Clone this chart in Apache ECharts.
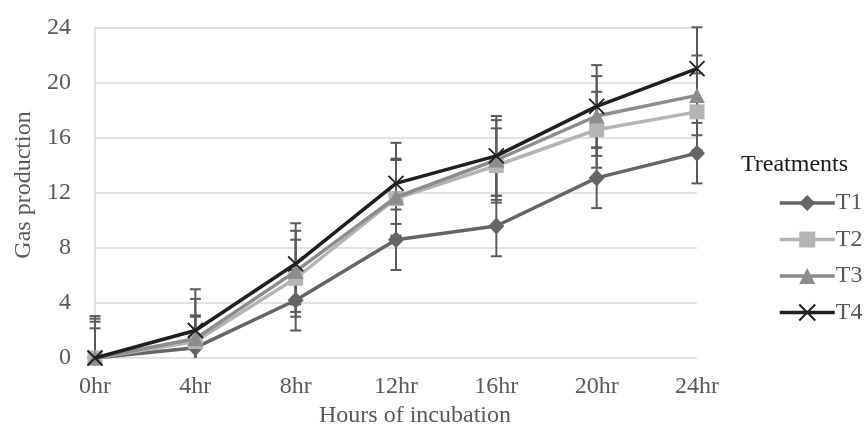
<!DOCTYPE html>
<html>
<head>
<meta charset="utf-8">
<script src="https://cdn.jsdelivr.net/npm/echarts@6/dist/echarts.min.js"></script>
<style>html,body{margin:0;padding:0;background:#fff}#c{width:868px;height:430px}</style>
</head>
<body>
<div id="c"></div>
<script>
var categories = ['0hr','4hr','8hr','12hr','16hr','20hr','24hr'];
var seriesNames = ['T1','T2','T3','T4'];
var T1 = [0, 0.75, 4.2, 8.6, 9.6, 13.1, 14.9];
var T2 = [0, 1.2, 5.8, 11.6, 14.0, 16.6, 17.9];
var T3 = [0, 1.4, 6.3, 11.7, 14.4, 17.6, 19.1];
var T4 = [0, 2.0, 6.85, 12.7, 14.7, 18.3, 21.05];
var T1err = [2.16, 2.25, 2.2, 2.2, 2.2, 2.2, 2.2];
var T2err = [2.64, 1.9, 2.8, 2.8, 2.7, 2.76, 2.8];
var T3err = [2.86, 2.9, 2.95, 2.8, 2.9, 2.9, 2.9];
var T4err = [3.05, 3.0, 2.95, 2.95, 2.9, 3.0, 3.0];
var yTicks = [0, 4, 8, 12, 16, 20, 24];

var FONT = "'Liberation Serif','Times New Roman',serif";
var TXT = '#595959';
var colors = ['#656565', '#b4b4b4', '#8c8c8c', '#1f1f1f'];
var symbols = ['diamond', 'rect', 'triangle', 'path://M0,0L10,10M10,0L0,10'];
var sizes = [[16,17], [15,15], [16,15], [15,15]];
var values = [T1, T2, T3, T4];
var errs = [T1err, T2err, T3err, T4err];

var series = [];
values.forEach(function (vals, s) {
  var d = vals.map(function (v, i) { return [i, v - errs[s][i], v + errs[s][i]]; });
  series.push({
    type: 'custom',
    name: seriesNames[s] + ' err',
    z: 1,
    silent: true,
    data: d,
    renderItem: function (params, api) {
      var x = api.value(0);
      var lo = api.value(1), hi = api.value(2);
      var loC = Math.max(lo, yTicks[0]);
      var pHi = api.coord([x, hi]);
      var pLo = api.coord([x, loC]);
      var hw = 5.5;
      var st = { stroke: '#5a5a5a', lineWidth: 2 };
      var children = [
        { type: 'line', shape: { x1: pHi[0], y1: pHi[1], x2: pLo[0], y2: pLo[1] }, style: st },
        { type: 'line', shape: { x1: pHi[0] - hw, y1: pHi[1], x2: pHi[0] + hw, y2: pHi[1] }, style: st }
      ];
      if (lo >= yTicks[0]) {
        children.push({ type: 'line', shape: { x1: pLo[0] - hw, y1: pLo[1], x2: pLo[0] + hw, y2: pLo[1] }, style: st });
      }
      return { type: 'group', children: children };
    }
  });
});
values.forEach(function (vals, s) {
  series.push({
    type: 'line',
    name: seriesNames[s],
    data: vals,
    z: 2 + s,
    symbol: symbols[s],
    symbolSize: sizes[s],
    showAllSymbol: true,
    lineStyle: { color: colors[s], width: 3.5 },
    itemStyle: s === 3 ? { color: colors[s], borderColor: colors[s], borderWidth: 1.8 } : { color: colors[s], borderWidth: 0 },
    emphasis: { disabled: true }
  });
});

var chart = echarts.init(document.getElementById('c'), null, { renderer: 'canvas' });
chart.setOption({
  animation: false,
  backgroundColor: '#fff',
  title: {
    text: 'Treatments', left: 736, top: 148,
    textStyle: { fontFamily: FONT, fontSize: 24, fontWeight: 'normal', color: '#1a1a1a' }
  },
  legend: {
    data: seriesNames,
    orient: 'vertical',
    left: 773, top: 186,
    itemWidth: 55, itemHeight: 20, itemGap: 12.5,
    lineStyle: { width: 3.5 },
    textStyle: { fontFamily: FONT, fontSize: 24, color: TXT, lineHeight: 22, padding: [0,0,0,-4] }
  },
  grid: { left: 95, right: 171, top: 28, bottom: 72, containLabel: false, outerBoundsMode: 'none' },
  xAxis: {
    type: 'category',
    data: categories,
    boundaryGap: false,
    name: 'Hours of incubation',
    nameLocation: 'middle',
    nameGap: 43,
    nameTextStyle: { fontFamily: FONT, fontSize: 24, color: TXT, padding: [0, 0, 0, 38] },
    axisLine: { show: false },
    axisTick: { show: false },
    axisLabel: { fontFamily: FONT, fontSize: 24, color: TXT, margin: 17 },
    splitLine: { show: false }
  },
  yAxis: {
    type: 'value',
    min: yTicks[0], max: yTicks[yTicks.length - 1], interval: 4,
    name: 'Gas production',
    nameLocation: 'middle',
    nameGap: 59,
    nameTextStyle: { fontFamily: FONT, fontSize: 24, color: TXT, padding: [0, 0, 0, 16] },
    axisLine: { show: true, lineStyle: { color: '#d9d9d9', width: 1.5 } },
    axisTick: { show: false },
    axisLabel: { fontFamily: FONT, fontSize: 24, color: TXT, margin: 24 },
    splitLine: { show: true, lineStyle: { color: '#d9d9d9', width: 1.5 } }
  },
  series: series
});
</script>
</body>
</html>
